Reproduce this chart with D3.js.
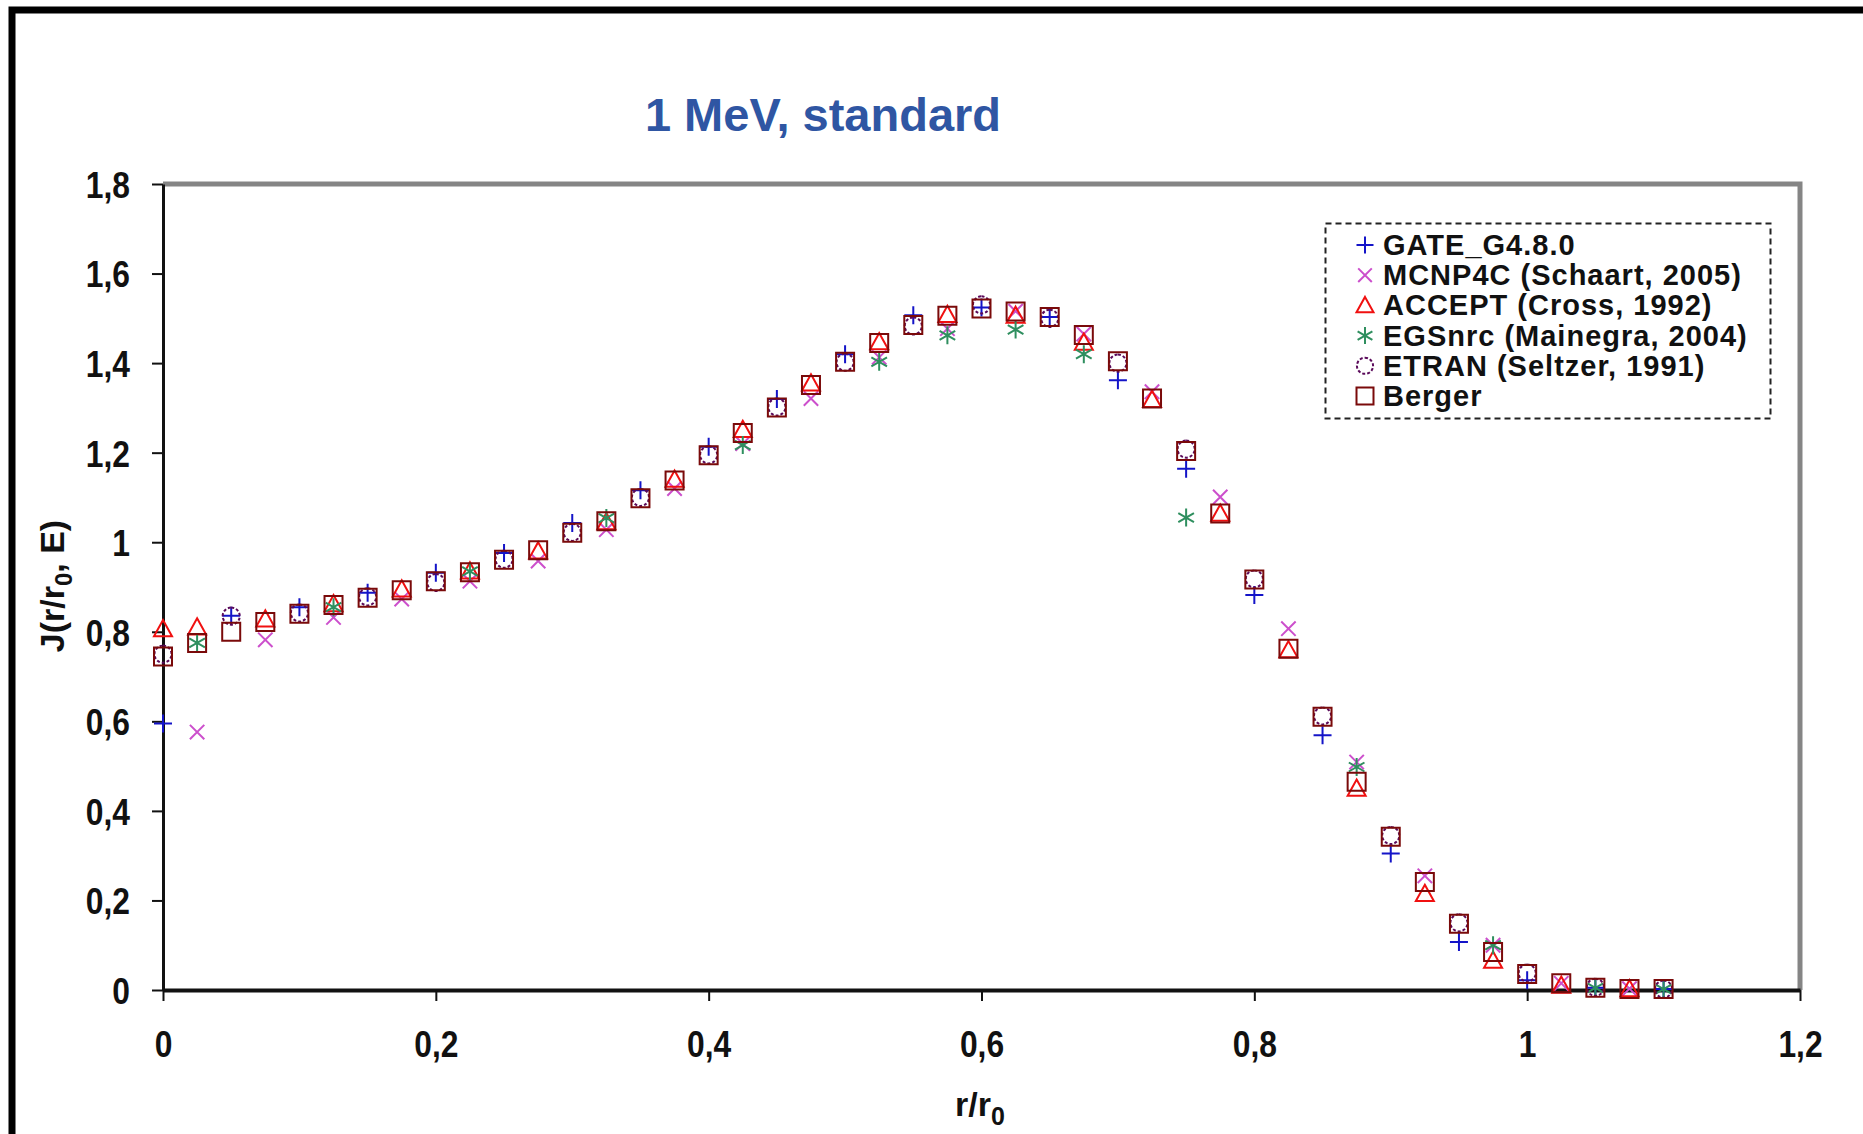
<!DOCTYPE html>
<html>
<head>
<meta charset="utf-8">
<script src="https://cdn.jsdelivr.net/npm/d3@7"></script>
<style>
  body { margin: 0; background: #fff; }
  svg { display: block; font-family: "Liberation Sans", Arial, sans-serif; }
</style>
</head>
<body>
<svg id="chart" width="1863" height="1134"></svg>
<script>
// J(r/r0, E) at 1 MeV, several codes compared
var title = "1 MeV, standard";
var xTicks = [0, 0.2, 0.4, 0.6, 0.8, 1, 1.2];
var yTicks = [0, 0.2, 0.4, 0.6, 0.8, 1, 1.2, 1.4, 1.6, 1.8];

var rGate = [0, 0.05, 0.1, 0.15, 0.2, 0.25, 0.3, 0.35, 0.4, 0.45, 0.5, 0.55, 0.6, 0.65, 0.7, 0.75, 0.8, 0.85, 0.9, 0.95, 1, 1.05, 1.1];
var jGate = [0.595, 0.836, 0.855, 0.887, 0.932, 0.976, 1.043, 1.116, 1.213, 1.320, 1.420, 1.507, 1.524, 1.503, 1.362, 1.164, 0.882, 0.569, 0.305, 0.107, 0.022, 0.005, 0.002];

var rMcnp = [0.025, 0.075, 0.125, 0.175, 0.225, 0.275, 0.325, 0.375, 0.425, 0.475, 0.525, 0.575, 0.625, 0.675, 0.725, 0.775, 0.825, 0.875, 0.925, 0.975, 1.025, 1.075];
var jMcnp = [0.576, 0.782, 0.832, 0.873, 0.913, 0.958, 1.028, 1.120, 1.220, 1.321, 1.413, 1.477, 1.516, 1.465, 1.336, 1.101, 0.807, 0.509, 0.255, 0.100, 0.015, 0.003];

var rAccept = [0, 0.025, 0.075, 0.125, 0.175, 0.225, 0.275, 0.325, 0.375, 0.425, 0.475, 0.525, 0.575, 0.625, 0.675, 0.725, 0.775, 0.825, 0.875, 0.925, 0.975, 1.025, 1.075];
var jAccept = [0.806, 0.810, 0.828, 0.862, 0.895, 0.935, 0.980, 1.045, 1.140, 1.251, 1.355, 1.447, 1.508, 1.506, 1.446, 1.318, 1.064, 0.759, 0.450, 0.215, 0.066, 0.010, 0.002];

var rEgs = [0.025, 0.125, 0.225, 0.325, 0.425, 0.525, 0.575, 0.625, 0.675, 0.75, 0.875, 0.975, 1.05, 1.1];
var jEgs = [0.775, 0.855, 0.935, 1.054, 1.217, 1.403, 1.462, 1.475, 1.420, 1.055, 0.498, 0.100, 0.005, 0.002];

var rEtran = [0, 0.05, 0.1, 0.15, 0.2, 0.25, 0.3, 0.35, 0.4, 0.45, 0.5, 0.55, 0.6, 0.65, 0.7, 0.75, 0.8, 0.85, 0.9, 0.95, 1, 1.05, 1.1];
var jEtran = [0.750, 0.835, 0.842, 0.878, 0.910, 0.962, 1.022, 1.100, 1.195, 1.302, 1.402, 1.483, 1.530, 1.500, 1.400, 1.208, 0.918, 0.612, 0.345, 0.150, 0.038, 0.006, 0.002];

var rBerger = [0, 0.025, 0.05, 0.075, 0.1, 0.125, 0.15, 0.175, 0.2, 0.225, 0.25, 0.275, 0.3, 0.325, 0.35, 0.375, 0.4, 0.425, 0.45, 0.475, 0.5, 0.525, 0.55, 0.575, 0.6, 0.625, 0.65, 0.675, 0.7, 0.725, 0.75, 0.775, 0.8, 0.825, 0.85, 0.875, 0.9, 0.925, 0.95, 0.975, 1, 1.025, 1.05, 1.075, 1.1];
var jBerger = [0.745, 0.775, 0.800, 0.822, 0.840, 0.860, 0.876, 0.893, 0.913, 0.933, 0.961, 0.982, 1.021, 1.047, 1.098, 1.138, 1.194, 1.244, 1.301, 1.351, 1.403, 1.445, 1.485, 1.506, 1.522, 1.515, 1.503, 1.463, 1.404, 1.321, 1.204, 1.064, 0.917, 0.762, 0.610, 0.465, 0.342, 0.241, 0.148, 0.085, 0.036, 0.015, 0.005, 0.002, 0.002];

var seriesNames = ["GATE_G4.8.0", "MCNP4C (Schaart, 2005)", "ACCEPT (Cross, 1992)", "EGSnrc (Mainegra, 2004)", "ETRAN (Seltzer, 1991)", "Berger"];

// symbols, centred on 0,0
var symbols = {
    plus: function(s) { return "M" + -s + ",0H" + s + "M0," + -s + "V" + s; },
    cross: function(s) { s = s * 0.8; return "M" + -s + "," + -s + "L" + s + "," + s + "M" + -s + "," + s + "L" + s + "," + -s; },
    triangle: function(s) { return "M0," + (-s) + "L" + s + "," + (s * 0.8) + "H" + -s + "Z"; },
    star: function(s) {
        var a = s * 0.87, b = s * 0.5;
        return "M0," + -s + "V" + s + "M" + -a + "," + -b + "L" + a + "," + b + "M" + -a + "," + b + "L" + a + "," + -b;
    },
    circle: function(s) { return d3.arc()({ innerRadius: 0, outerRadius: s * 0.95, startAngle: 0, endAngle: 2 * Math.PI }); },
    square: function(s) { return "M" + -s + "," + -s + "H" + s + "V" + s + "H" + -s + "Z"; }
};

var series = [
    { name: seriesNames[0], r: rGate, j: jGate, sym: "plus", color: "#1414c8", dash: null },
    { name: seriesNames[1], r: rMcnp, j: jMcnp, sym: "cross", color: "#cc4fcc", dash: null },
    { name: seriesNames[2], r: rAccept, j: jAccept, sym: "triangle", color: "#f01010", dash: null },
    { name: seriesNames[3], r: rEgs, j: jEgs, sym: "star", color: "#2f8f5f", dash: null },
    { name: seriesNames[4], r: rEtran, j: jEtran, sym: "circle", color: "#5a0a5a", dash: "3,2" },
    { name: seriesNames[5], r: rBerger, j: jBerger, sym: "square", color: "#7a0a0a", dash: null }
];

var margin = { top: 184, right: 63, bottom: 144, left: 163 };
var W = 1863, H = 1134;
var squeeze = 0.86; // tick labels are narrow in the original

var svg = d3.select("#chart");

// outer frame
svg.append("path")
    .attr("d", "M12,1140V10H1870")
    .attr("fill", "none")
    .attr("stroke", "#000")
    .attr("stroke-width", 7);

var x = d3.scaleLinear().domain([0, 1.2]).range([margin.left, W - margin.right]);
var y = d3.scaleLinear().domain([0, 1.8]).range([H - margin.bottom, margin.top]);

var fmt = function(d) { return String(+d.toFixed(1)).replace(".", ","); };

// plot box: gray top and right
svg.append("path")
    .attr("d", "M" + x(0) + "," + y(1.8) + "H" + x(1.2) + "V" + y(0))
    .attr("fill", "none")
    .attr("stroke", "#858585")
    .attr("stroke-width", 5);

// axes
var gx = svg.append("g")
    .attr("transform", "translate(0," + y(0) + ")")
    .call(d3.axisBottom(x).tickValues(xTicks).tickFormat(fmt).tickSize(11).tickSizeOuter(0).tickPadding(30));
var gy = svg.append("g")
    .attr("transform", "translate(" + x(0) + ",0)")
    .call(d3.axisLeft(y).tickValues(yTicks).tickFormat(fmt).tickSize(11).tickSizeOuter(0).tickPadding(22));

gx.select(".domain").attr("stroke-width", 4).attr("stroke", "#111");
gy.select(".domain").attr("stroke-width", 3).attr("stroke", "#111");
svg.selectAll(".tick line").attr("stroke", "#111").attr("stroke-width", 2);
svg.selectAll(".tick text")
    .attr("fill", "#111")
    .style("font-size", "37px")
    .style("font-weight", "bold");
gy.selectAll(".tick text")
    .attr("dy", "0.36em")
    .attr("x", -33 / squeeze)
    .attr("transform", "scale(" + squeeze + ",1)");
gx.selectAll(".tick text")
    .attr("transform", "scale(" + squeeze + ",1)");

// title
svg.append("text")
    .attr("x", 823)
    .attr("y", 131)
    .attr("text-anchor", "middle")
    .attr("fill", "#2f56a3")
    .style("font-size", "47px")
    .style("font-weight", "bold")
    .text(title);

// axis titles
var xl = svg.append("text")
    .attr("x", 980)
    .attr("y", 1116)
    .attr("text-anchor", "middle")
    .attr("fill", "#111")
    .style("font-size", "34px")
    .style("font-weight", "bold");
xl.append("tspan").text("r/r");
xl.append("tspan").attr("dy", 9).style("font-size", "25px").text("0");

var yl = svg.append("text")
    .attr("transform", "translate(64,586) rotate(-90)")
    .attr("text-anchor", "middle")
    .attr("fill", "#111")
    .style("font-size", "34px")
    .style("font-weight", "bold");
yl.append("tspan").text("J(r/r");
yl.append("tspan").attr("dy", 8).style("font-size", "24px").text("0");
yl.append("tspan").attr("dy", -8).text(", E)");

// points
var S = 9;
series.forEach(function(s) {
    svg.append("g")
        .selectAll("path")
        .data(s.r.map(function(r, i) { return [r, s.j[i]]; }))
        .join("path")
        .attr("transform", function(d) { return "translate(" + x(d[0]) + "," + y(d[1]) + ")"; })
        .attr("d", symbols[s.sym](S))
        .attr("fill", "none")
        .attr("stroke", s.color)
        .attr("stroke-width", 2)
        .attr("stroke-dasharray", s.dash);
});

// legend
var lg = svg.append("g");
lg.append("rect")
    .attr("x", 1325.5)
    .attr("y", 223.5)
    .attr("width", 445)
    .attr("height", 195)
    .attr("fill", "#fff")
    .attr("stroke", "#222")
    .attr("stroke-width", 2)
    .attr("stroke-dasharray", "6,4");

var rows = lg.selectAll("g.row")
    .data(series)
    .join("g")
    .attr("class", "row")
    .attr("transform", function(d, i) { return "translate(1365," + (245 + i * 30.2) + ")"; });

rows.append("path")
    .attr("d", function(d) { return symbols[d.sym](8.5); })
    .attr("fill", "none")
    .attr("stroke", function(d) { return d.color; })
    .attr("stroke-width", 2)
    .attr("stroke-dasharray", function(d) { return d.dash; });

rows.append("text")
    .attr("x", 18)
    .attr("y", 10)
    .attr("fill", "#111")
    .style("font-size", "29px")
    .style("font-weight", "bold")
    .style("letter-spacing", "1px")
    .text(function(d) { return d.name; });
</script>
</body>
</html>
